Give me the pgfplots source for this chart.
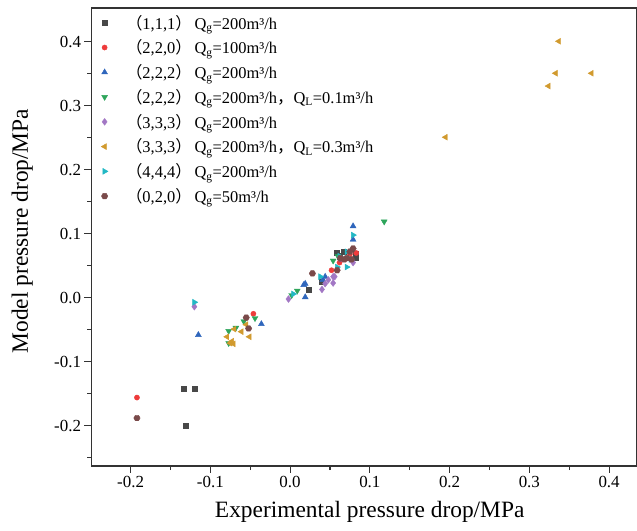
\documentclass[border=0pt]{standalone}
\usepackage{pgfplots}
\pgfplotsset{compat=1.18}
\usepackage{fontspec}
\setmainfont{Liberation Serif}
\newfontfamily\cjk{Noto Sans CJK SC}
\definecolor{cA}{HTML}{484848}
\definecolor{cB}{HTML}{EE3B3B}
\definecolor{cC}{HTML}{2F66BC}
\definecolor{cD}{HTML}{2EA55B}
\definecolor{cE}{HTML}{A277C4}
\definecolor{cF}{HTML}{D19A2E}
\definecolor{cG}{HTML}{22B8C4}
\definecolor{cH}{HTML}{7A4A4A}
\pgfdeclareplotmark{hexagon}{%
  \pgfpathmoveto{\pgfqpointpolar{0}{\pgfplotmarksize}}%
  \pgfpathlineto{\pgfqpointpolar{60}{\pgfplotmarksize}}%
  \pgfpathlineto{\pgfqpointpolar{120}{\pgfplotmarksize}}%
  \pgfpathlineto{\pgfqpointpolar{180}{\pgfplotmarksize}}%
  \pgfpathlineto{\pgfqpointpolar{240}{\pgfplotmarksize}}%
  \pgfpathlineto{\pgfqpointpolar{300}{\pgfplotmarksize}}%
  \pgfpathclose\pgfusepathqfillstroke}
\newcommand{\pp}[1]{{\cjk （}#1{\cjk ）}}
\newcommand{\Qg}{Q\textsubscript{g}}
\newcommand{\QL}{Q\textsubscript{L}}
\begin{document}
\begin{tikzpicture}
\useasboundingbox (-91.5bp,-65bp) rectangle (545.5bp,466bp);
\begin{axis}[
  scale only axis,
  width=545.5bp, height=458bp,
  xmin=-0.249, xmax=0.435,
  ymin=-0.263, ymax=0.453,
  axis line style={line width=1.4bp, draw=black!80},
  xtick={-0.2,-0.1,0,0.1,0.2,0.3,0.4},
  ytick={-0.2,-0.1,0,0.1,0.2,0.3,0.4},
  minor xtick={-0.25,-0.15,-0.05,0.05,0.15,0.25,0.35},
  minor ytick={-0.25,-0.15,-0.05,0.05,0.15,0.25,0.35},
  xtick pos=bottom, ytick pos=left,
  tick align=outside,
  major tick length=0bp, minor tick length=4bp,
  every minor tick/.append style={line width=1.1bp, draw=black!80},
  /pgf/number format/assume math mode=true,
  xticklabel style={/pgf/number format/.cd, fixed, fixed zerofill, precision=1, /tikz/.cd, yshift=-7bp},
  yticklabel style={/pgf/number format/.cd, fixed, fixed zerofill, precision=1, /tikz/.cd, xshift=-7bp},
  tick label style={font=\fontsize{17}{20}\selectfont},
  xlabel={Experimental pressure drop/MPa},
  ylabel={Model pressure drop/MPa},
  label style={font=\fontsize{23.5}{28}\selectfont},
  xlabel style={at={(axis description cs:0.51,-0.1)}, anchor=center},
  ylabel style={at={(axis description cs:-0.127,0.513)}, anchor=center},
  legend style={at={(axis description cs:0.012,0.995)}, anchor=north west, draw=none, fill=none,
    font=\fontsize{16.5}{19}\selectfont, row sep=4.2bp, nodes={inner ysep=2.5bp}},
  legend cell align=left,
  clip=false,
]
\addplot[only marks, mark=square*, mark size=2.6bp, color=cA] coordinates {
(-0.133,-0.142) (-0.120,-0.142) (-0.131,-0.200) (0.058,0.070) (0.067,0.072)
(0.082,0.063) (0.023,0.012) (0.040,0.025) (0.062,0.065) (0.082,0.068)};
\addlegendentry{\hspace{16bp}\pp{1,1,1}\,\Qg=200m³/h}
\addplot[only marks, mark=*, mark size=2.6bp, color=cB] coordinates {
(-0.192,-0.156) (-0.046,-0.025) (0.052,0.043) (0.075,0.068) (0.062,0.055) (0.083,0.070)};
\addlegendentry{\hspace{16bp}\pp{2,2,0}\,\Qg=100m³/h}
\addplot[only marks, mark=triangle*, mark size=3.4bp, color=cC] coordinates {
(0.079,0.112) (0.079,0.091) (0.044,0.033) (0.019,0.022) (0.019,0.001)
(-0.036,-0.041) (-0.115,-0.058) (0.017,0.020) (0.065,0.060) (0.041,0.028)};
\addlegendentry{\hspace{16bp}\pp{2,2,2}\,\Qg=200m³/h}
\addplot[only marks, mark=triangle*, mark options={rotate=180}, mark size=3.4bp, color=cD] coordinates {
(-0.077,-0.052) (-0.068,-0.047) (-0.058,-0.037) (-0.044,-0.032) (-0.077,-0.071)
(0.009,0.011) (0.002,0.004) (0.054,0.058) (0.118,0.119) (0.060,0.065)};
\addlegendentry{\hspace{16bp}\pp{2,2,2}\,\Qg=200m³/h{\cjk ，}\QL=0.1m³/h}
\addplot[only marks, mark=diamond*, mark size=3.4bp, color=cE] coordinates {
(-0.120,-0.014) (-0.002,-0.002) (0.040,0.013) (0.044,0.022) (0.054,0.023)
(0.054,0.033) (0.079,0.055) (0.056,0.033) (0.048,0.028)};
\addlegendentry{\hspace{16bp}\pp{3,3,3}\,\Qg=200m³/h}
\addplot[only marks, mark=triangle*, mark options={rotate=90}, mark size=3.4bp, color=cF] coordinates {
(0.337,0.401) (0.333,0.351) (0.378,0.351) (0.324,0.331) (0.195,0.251)
(-0.079,-0.061) (-0.070,-0.049) (-0.061,-0.053) (-0.051,-0.061) (-0.075,-0.071)
(-0.071,-0.072) (-0.055,-0.042) (-0.073,-0.068)};
\addlegendentry{\hspace{16bp}\pp{3,3,3}\,\Qg=200m³/h{\cjk ，}\QL=0.3m³/h}
\addplot[only marks, mark=triangle*, mark options={rotate=-90}, mark size=3.4bp, color=cG] coordinates {
(0.079,0.098) (-0.120,-0.007) (0.071,0.072) (0.059,0.048) (0.071,0.048)
(0.038,0.033) (0.004,0.006) (0.062,0.065) (0.076,0.060)};
\addlegendentry{\hspace{16bp}\pp{4,4,4}\,\Qg=200m³/h}
\addplot[only marks, mark=hexagon, mark size=3.2bp, color=cH] coordinates {
(-0.192,-0.188) (-0.055,-0.031) (-0.052,-0.048) (0.028,0.038) (0.059,0.043)
(0.063,0.062) (0.071,0.062) (0.077,0.060) (0.079,0.077) (0.068,0.060) (0.075,0.072)};
\addlegendentry{\hspace{16bp}\pp{0,2,0}\,\Qg=50m³/h}
\pgfplotsinvokeforeach{-0.2,-0.1,0,0.1,0.2,0.3,0.4}{
  \draw[line width=1.1bp, black!80] (axis cs:#1,-0.263) -- ++(0pt,-7bp);
  \draw[line width=1.1bp, black!80] (axis cs:-0.249,#1) -- ++(-7bp,0pt);
}
\end{axis}
\end{tikzpicture}
\end{document}
